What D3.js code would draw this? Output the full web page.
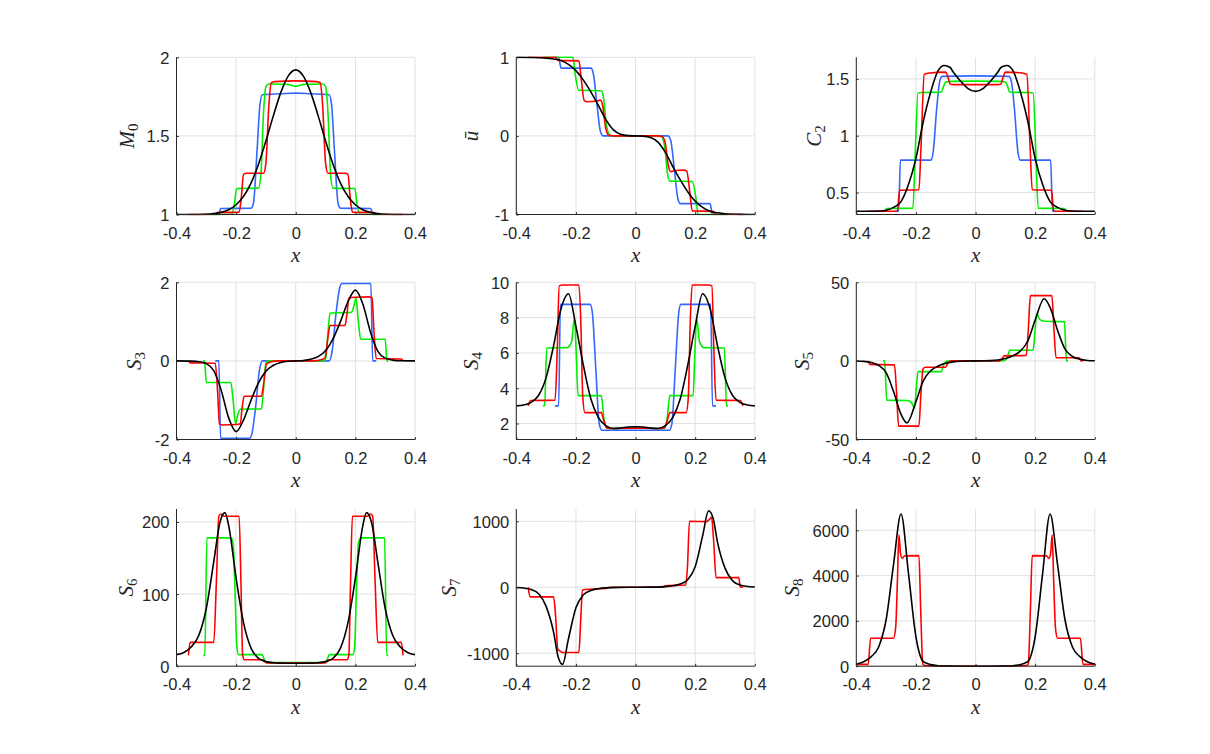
<!DOCTYPE html>
<html><head><meta charset="utf-8">
<script src="https://cdn.jsdelivr.net/npm/d3@7"></script>
<style>
body{margin:0;background:#fff;}
svg{display:block;}
</style></head>
<body>
<svg id="chart" width="1210" height="754"></svg>
<script>
// ---------------- data ----------------
const xTicks = [-0.4, -0.2, 0, 0.2, 0.4];
const xTickLabels = ["-0.4", "-0.2", "0", "0.2", "0.4"];

// M0
const m0Blue = [[-0.27,1],[-0.258,1],[-0.252,1.038],[-0.15,1.04],[-0.142,1.07],[-0.13,1.4],[-0.12,1.7],[-0.112,1.762],[-0.05,1.768],[0,1.772],[0.05,1.768],[0.112,1.762],[0.12,1.7],[0.13,1.4],[0.142,1.07],[0.15,1.04],[0.252,1.038],[0.258,1],[0.27,1]];
const m0Green = [[-0.31,1],[-0.215,1.002],[-0.207,1.05],[-0.198,1.165],[-0.125,1.168],[-0.117,1.25],[-0.108,1.65],[-0.1,1.815],[-0.09,1.83],[-0.03,1.828],[0,1.815],[0.03,1.828],[0.09,1.83],[0.1,1.815],[0.108,1.65],[0.117,1.25],[0.125,1.168],[0.198,1.165],[0.207,1.05],[0.215,1.002],[0.31,1]];
const m0Red = [[-0.36,1],[-0.268,1],[-0.262,1.012],[-0.19,1.015],[-0.183,1.1],[-0.175,1.255],[-0.165,1.262],[-0.108,1.262],[-0.1,1.33],[-0.09,1.7],[-0.082,1.838],[-0.07,1.845],[0,1.85],[0.07,1.845],[0.082,1.838],[0.09,1.7],[0.1,1.33],[0.108,1.262],[0.165,1.262],[0.175,1.255],[0.183,1.1],[0.19,1.015],[0.262,1.012],[0.268,1],[0.36,1]];
const m0Black = [[-0.4,1],[-0.35,1],[-0.3,1.002],[-0.275,1.006],[-0.25,1.014],[-0.225,1.03],[-0.2,1.062],[-0.175,1.116],[-0.15,1.2],[-0.125,1.32],[-0.1,1.468],[-0.075,1.629],[-0.05,1.777],[-0.025,1.882],[0,1.92],[0.025,1.882],[0.05,1.777],[0.075,1.629],[0.1,1.468],[0.125,1.32],[0.15,1.2],[0.175,1.116],[0.2,1.062],[0.225,1.03],[0.25,1.014],[0.275,1.006],[0.3,1.002],[0.35,1],[0.4,1]];

// u-bar
const uBlue = [[-0.27,1],[-0.258,1],[-0.25,0.862],[-0.15,0.862],[-0.142,0.8],[-0.13,0.42],[-0.118,0.06],[-0.108,0],[0.108,0],[0.118,-0.06],[0.13,-0.42],[0.142,-0.8],[0.15,-0.862],[0.25,-0.862],[0.258,-1],[0.27,-1]];
const uGreen = [[-0.31,1],[-0.21,1],[-0.203,0.8],[-0.19,0.58],[-0.115,0.575],[-0.108,0.5],[-0.097,0.12],[-0.085,0.005],[-0.07,0],[0.07,0],[0.085,-0.005],[0.097,-0.12],[0.108,-0.5],[0.115,-0.575],[0.19,-0.58],[0.203,-0.8],[0.21,-1],[0.31,-1]];
const uRed = [[-0.36,1],[-0.268,1],[-0.26,0.96],[-0.19,0.955],[-0.183,0.75],[-0.172,0.45],[-0.162,0.435],[-0.135,0.44],[-0.118,0.455],[-0.11,0.38],[-0.1,0.1],[-0.09,0.01],[-0.075,0],[0.075,0],[0.09,-0.01],[0.1,-0.1],[0.11,-0.38],[0.118,-0.455],[0.135,-0.44],[0.162,-0.435],[0.172,-0.45],[0.183,-0.75],[0.19,-0.955],[0.26,-0.96],[0.268,-1],[0.36,-1]];
const uBlack = [[-0.4,1],[-0.35,0.998],[-0.3,0.99],[-0.275,0.978],[-0.25,0.96],[-0.225,0.91],[-0.2,0.83],[-0.175,0.71],[-0.15,0.56],[-0.125,0.39],[-0.1,0.21],[-0.075,0.08],[-0.05,0.02],[-0.025,0.003],[0,0],[0.025,-0.003],[0.05,-0.02],[0.075,-0.08],[0.1,-0.21],[0.125,-0.39],[0.15,-0.56],[0.175,-0.71],[0.2,-0.83],[0.225,-0.91],[0.25,-0.96],[0.275,-0.978],[0.3,-0.99],[0.35,-0.998],[0.4,-1]];

// C2
const c2Blue = [[-0.27,0.335],[-0.258,0.335],[-0.252,0.785],[-0.15,0.785],[-0.142,0.86],[-0.13,1.25],[-0.12,1.48],[-0.112,1.522],[0,1.527],[0.112,1.522],[0.12,1.48],[0.13,1.25],[0.142,0.86],[0.15,0.785],[0.252,0.785],[0.258,0.335],[0.27,0.335]];
const c2Green = [[-0.31,0.335],[-0.305,0.335],[-0.298,0.36],[-0.21,0.362],[-0.203,0.8],[-0.193,1.375],[-0.18,1.38],[-0.115,1.382],[-0.108,1.43],[-0.1,1.472],[-0.08,1.478],[0,1.48],[0.08,1.478],[0.1,1.472],[0.108,1.43],[0.115,1.382],[0.18,1.38],[0.193,1.375],[0.203,0.8],[0.21,0.362],[0.298,0.36],[0.305,0.335],[0.31,0.335]];
const c2Red = [[-0.36,0.335],[-0.262,0.335],[-0.255,0.52],[-0.19,0.525],[-0.183,0.9],[-0.172,1.54],[-0.16,1.55],[-0.1,1.56],[-0.093,1.52],[-0.085,1.455],[-0.075,1.45],[0,1.45],[0.075,1.45],[0.085,1.455],[0.093,1.52],[0.1,1.56],[0.16,1.55],[0.172,1.54],[0.183,0.9],[0.19,0.525],[0.255,0.52],[0.262,0.335],[0.36,0.335]];
const c2Black = [[-0.4,0.335],[-0.35,0.336],[-0.325,0.338],[-0.3,0.345],[-0.275,0.37],[-0.25,0.42],[-0.225,0.57],[-0.2,0.8],[-0.175,1.13],[-0.15,1.39],[-0.125,1.575],[-0.105,1.618],[-0.085,1.6],[-0.075,1.56],[-0.05,1.48],[-0.025,1.415],[0,1.39],[0.025,1.415],[0.05,1.48],[0.075,1.56],[0.085,1.6],[0.105,1.618],[0.125,1.575],[0.15,1.39],[0.175,1.13],[0.2,0.8],[0.225,0.57],[0.25,0.42],[0.275,0.37],[0.3,0.345],[0.325,0.338],[0.35,0.336],[0.4,0.335]];

// S3
const s3Blue = [[-0.27,0],[-0.258,0],[-0.252,-1.97],[-0.155,-1.97],[-0.147,-1.85],[-0.135,-1.2],[-0.122,-0.25],[-0.112,0],[0.112,0],[0.122,0.25],[0.135,1.2],[0.147,1.85],[0.155,1.97],[0.252,1.97],[0.258,0],[0.27,0]];
const s3Green = [[-0.31,0],[-0.306,0],[-0.3,-0.55],[-0.218,-0.55],[-0.21,-1.0],[-0.202,-1.6],[-0.196,-1.42],[-0.186,-1.23],[-0.115,-1.22],[-0.108,-0.7],[-0.1,-0.05],[-0.09,0],[0.09,0],[0.1,0.05],[0.108,0.7],[0.115,1.22],[0.186,1.23],[0.196,1.42],[0.202,1.6],[0.21,1.0],[0.218,0.55],[0.3,0.55],[0.306,0],[0.31,0]];
const s3Red = [[-0.36,0],[-0.354,-0.05],[-0.27,-0.06],[-0.262,-0.8],[-0.256,-1.6],[-0.245,-1.63],[-0.2,-1.62],[-0.186,-1.6],[-0.18,-1.2],[-0.173,-0.9],[-0.115,-0.9],[-0.108,-0.6],[-0.098,-0.08],[-0.085,-0.03],[-0.06,0],[0.06,0],[0.085,0.03],[0.098,0.08],[0.108,0.6],[0.115,0.9],[0.165,0.9],[0.172,1.2],[0.178,1.6],[0.2,1.62],[0.245,1.63],[0.256,1.6],[0.262,0.8],[0.27,0.06],[0.354,0.05],[0.36,0]];
const s3Black = [[-0.4,0],[-0.35,-0.005],[-0.325,-0.02],[-0.3,-0.07],[-0.275,-0.25],[-0.25,-0.75],[-0.225,-1.45],[-0.2,-1.8],[-0.175,-1.5],[-0.15,-1.0],[-0.125,-0.56],[-0.1,-0.26],[-0.075,-0.11],[-0.05,-0.04],[-0.025,-0.01],[0,0],[0.025,0.01],[0.05,0.04],[0.075,0.11],[0.1,0.26],[0.125,0.56],[0.15,1.0],[0.175,1.5],[0.2,1.8],[0.225,1.45],[0.25,0.75],[0.275,0.25],[0.3,0.07],[0.325,0.02],[0.35,0.005],[0.4,0]];

// S4
const s4Blue = [[-0.27,3],[-0.258,3],[-0.252,8.75],[-0.152,8.75],[-0.145,8.3],[-0.133,5],[-0.122,2],[-0.113,1.62],[0,1.62],[0.113,1.62],[0.122,2],[0.133,5],[0.145,8.3],[0.152,8.75],[0.252,8.75],[0.258,3],[0.27,3]];
const s4Green = [[-0.31,3],[-0.305,3],[-0.298,6.28],[-0.23,6.3],[-0.215,6.6],[-0.205,7.95],[-0.199,6],[-0.193,3.58],[-0.115,3.58],[-0.106,2.3],[-0.097,1.72],[0,1.74],[0.097,1.72],[0.106,2.3],[0.115,3.58],[0.193,3.58],[0.199,6],[0.205,7.95],[0.215,6.6],[0.23,6.3],[0.298,6.28],[0.305,3],[0.31,3]];
const s4Red = [[-0.36,3],[-0.352,3.3],[-0.27,3.32],[-0.263,6],[-0.256,9.8],[-0.245,9.85],[-0.19,9.85],[-0.184,8],[-0.177,3.5],[-0.17,2.62],[-0.115,2.62],[-0.107,2.2],[-0.097,1.76],[-0.085,1.72],[0,1.74],[0.085,1.72],[0.097,1.76],[0.107,2.2],[0.115,2.62],[0.17,2.62],[0.177,3.5],[0.184,8],[0.19,9.85],[0.245,9.85],[0.256,9.8],[0.263,6],[0.27,3.32],[0.352,3.3],[0.36,3]];
const s4Black = [[-0.4,3],[-0.375,3.05],[-0.35,3.2],[-0.325,3.6],[-0.3,4.6],[-0.275,6.4],[-0.25,8.5],[-0.225,9.35],[-0.2,7.5],[-0.175,5.3],[-0.15,3.4],[-0.125,2.35],[-0.1,1.88],[-0.075,1.72],[-0.05,1.74],[-0.025,1.8],[0,1.82],[0.025,1.8],[0.05,1.74],[0.075,1.72],[0.1,1.88],[0.125,2.35],[0.15,3.4],[0.175,5.3],[0.2,7.5],[0.225,9.35],[0.25,8.5],[0.275,6.4],[0.3,4.6],[0.325,3.6],[0.35,3.2],[0.375,3.05],[0.4,3]];

// S5
const s5Green = [[-0.31,0],[-0.305,0],[-0.298,-25],[-0.23,-25.2],[-0.215,-26.5],[-0.205,-30],[-0.199,-18],[-0.193,-6.8],[-0.115,-6.8],[-0.106,-2],[-0.098,-0.3],[-0.08,0],[0.08,0],[0.098,0.3],[0.106,2],[0.115,6.8],[0.193,6.8],[0.199,18],[0.205,30],[0.215,26.5],[0.23,25.2],[0.298,25],[0.305,0],[0.31,0]];
const s5Red = [[-0.36,0],[-0.354,-2.2],[-0.272,-2.5],[-0.265,-20],[-0.258,-41.5],[-0.19,-41.5],[-0.183,-20],[-0.176,-5],[-0.168,-4],[-0.1,-4],[-0.092,-1],[-0.08,0],[0.08,0],[0.088,1],[0.096,3.2],[0.17,3.5],[0.177,20],[0.184,41.5],[0.256,41.5],[0.263,20],[0.27,2],[0.348,2],[0.354,0],[0.36,0]];
const s5Black = [[-0.4,-0.1],[-0.375,-0.3],[-0.35,-1],[-0.325,-2.8],[-0.3,-7.5],[-0.275,-19.5],[-0.25,-34],[-0.23,-39.5],[-0.2,-26],[-0.175,-12.5],[-0.15,-6.2],[-0.125,-3.2],[-0.1,-1.5],[-0.075,-0.6],[-0.05,-0.2],[-0.025,-0.05],[0,0],[0.025,0.05],[0.05,0.2],[0.075,0.6],[0.1,1.5],[0.125,3.2],[0.15,6.2],[0.175,12.5],[0.2,26],[0.23,39.5],[0.25,34],[0.275,19.5],[0.3,7.5],[0.325,2.8],[0.35,1],[0.375,0.3],[0.4,0.1]];

// S6
const s6Green = [[-0.31,15],[-0.305,15],[-0.298,178],[-0.218,178],[-0.21,170],[-0.204,110],[-0.198,30],[-0.192,16],[-0.113,16],[-0.106,10],[-0.098,5],[0,5],[0.098,5],[0.106,10],[0.113,16],[0.192,16],[0.198,30],[0.204,110],[0.21,170],[0.218,178],[0.298,178],[0.305,15],[0.31,15]];
const s6Red = [[-0.36,15],[-0.354,33],[-0.275,33],[-0.266,120],[-0.258,208],[-0.252,211],[-0.24,208],[-0.19,208],[-0.184,120],[-0.178,15],[-0.172,9],[-0.112,9],[-0.104,6],[-0.095,4.5],[0,4.5],[0.095,4.5],[0.104,6],[0.112,9],[0.172,9],[0.178,15],[0.184,120],[0.19,208],[0.24,208],[0.252,211],[0.258,208],[0.266,120],[0.275,33],[0.354,33],[0.36,15]];
const s6Black = [[-0.4,16],[-0.375,19],[-0.35,27],[-0.325,43],[-0.3,80],[-0.275,145],[-0.255,198],[-0.2375,213],[-0.225,195],[-0.2,122],[-0.175,60],[-0.15,25],[-0.125,11],[-0.1,6.5],[-0.075,4.8],[-0.05,4.2],[-0.025,4],[0,4],[0.025,4],[0.05,4.2],[0.075,4.8],[0.1,6.5],[0.125,11],[0.15,25],[0.175,60],[0.2,122],[0.225,195],[0.2375,213],[0.255,198],[0.275,145],[0.3,80],[0.325,43],[0.35,27],[0.375,19],[0.4,16]];

// S7
const s7Red = [[-0.36,0],[-0.354,-146],[-0.275,-146],[-0.268,-450],[-0.261,-940],[-0.254,-965],[-0.245,-990],[-0.19,-990],[-0.184,-500],[-0.178,-45],[-0.17,-35],[-0.1,-20],[-0.09,-5],[-0.08,0],[0.08,0],[0.09,5],[0.1,20],[0.168,35],[0.174,300],[0.181,1000],[0.238,995],[0.248,1030],[0.255,1060],[0.262,700],[0.27,146],[0.346,146],[0.352,0],[0.36,0]];
const s7Black = [[-0.4,-4],[-0.375,-12],[-0.35,-35],[-0.325,-100],[-0.3,-290],[-0.275,-680],[-0.26,-1050],[-0.245,-1170],[-0.225,-780],[-0.2,-310],[-0.175,-115],[-0.15,-48],[-0.125,-22],[-0.1,-10],[-0.05,-2],[0,0],[0.05,2],[0.1,10],[0.125,22],[0.15,48],[0.175,115],[0.2,310],[0.225,780],[0.245,1160],[0.26,1050],[0.275,680],[0.3,290],[0.325,100],[0.35,35],[0.375,12],[0.4,4]];

// S8
const s8Red = [[-0.4,80],[-0.36,80],[-0.352,1235],[-0.275,1235],[-0.268,1700],[-0.262,3800],[-0.257,5800],[-0.252,5000],[-0.246,4760],[-0.238,4870],[-0.19,4880],[-0.184,2500],[-0.177,100],[-0.17,30],[-0.1,5],[0,0],[0.1,5],[0.17,30],[0.177,100],[0.184,2500],[0.19,4880],[0.238,4870],[0.246,4760],[0.252,5000],[0.257,5800],[0.262,3800],[0.268,1700],[0.275,1235],[0.352,1235],[0.36,80],[0.4,80]];
const s8Black = [[-0.4,100],[-0.375,200],[-0.35,420],[-0.325,850],[-0.3,2050],[-0.275,4500],[-0.25,6720],[-0.225,4100],[-0.2,1300],[-0.175,200],[-0.15,70],[-0.125,20],[-0.1,5],[-0.05,0.3],[0,0],[0.05,0.3],[0.1,5],[0.125,20],[0.15,70],[0.175,200],[0.2,1300],[0.225,4100],[0.25,6720],[0.275,4500],[0.3,2050],[0.325,850],[0.35,420],[0.375,200],[0.4,100]];

// y ranges and ticks
const yDomains = [[1,2],[-1,1],[0.307,1.69],[-2,2],[1.095,10],[-50,50],[0,218],[-1197,1186],[0,6940]];
const yTicks = [[1,1.5,2],[-1,0,1],[0.5,1,1.5],[-2,0,2],[2,4,6,8,10],[-50,0,50],[0,100,200],[-1000,0,1000],[0,2000,4000,6000]];
const yLabels = [["M","0"],["ū",null],["C","2"],["S","3"],["S","4"],["S","5"],["S","6"],["S","7"],["S","8"]];
const seriesNames = ["blue","green","red","black"];
const panelSeries = [
  [m0Blue, m0Green, m0Red, m0Black],
  [uBlue, uGreen, uRed, uBlack],
  [c2Blue, c2Green, c2Red, c2Black],
  [s3Blue, s3Green, s3Red, s3Black],
  [s4Blue, s4Green, s4Red, s4Black],
  [null, s5Green, s5Red, s5Black],
  [null, s6Green, s6Red, s6Black],
  [null, null, s7Red, s7Black],
  [null, null, s8Red, s8Black]
];

// ---------------- layout / style ----------------
const colors = {blue:"#3366ff", green:"#00ee00", red:"#ff0000", black:"#000000"};
const colLeft = [176.5, 516.3, 856.3];
const rowTop = [57.3, 282.3, 509];
const axW = 238.5, axH = 157.2;
const yLabelOffset = [48.5, 44.6, 41.3, 41.5, 44.6, 53.3, 49.8, 66.3, 63.6];
const axisColor = "#262626", gridColor = "#e1e1e1";
const tickFont = '"Liberation Sans", Arial, Helvetica, sans-serif';
const labelFont = '"Liberation Serif", "Times New Roman", serif';

const svg = d3.select("#chart");
svg.append("rect").attr("width",1210).attr("height",754).attr("fill","#fff");
const defs = svg.append("defs");

panelSeries.forEach((series, i) => {
  const r = Math.floor(i/3), c = i%3;
  const L = colLeft[c], T = rowTop[r];
  const x = d3.scaleLinear().domain([-0.4,0.4]).range([0,axW]);
  const y = d3.scaleLinear().domain(yDomains[i]).range([axH,0]);
  const g = svg.append("g").attr("transform",`translate(${L},${T})`);

  // grid
  g.append("g").selectAll("line").data(xTicks).join("line")
    .attr("x1",d=>x(d)).attr("x2",d=>x(d)).attr("y1",0).attr("y2",axH)
    .attr("stroke",gridColor).attr("stroke-width",1);
  g.append("g").selectAll("line").data(yTicks[i]).join("line")
    .attr("x1",0).attr("x2",axW).attr("y1",d=>y(d)).attr("y2",d=>y(d))
    .attr("stroke",gridColor).attr("stroke-width",1);

  // clip
  const cid = "clip"+i;
  defs.append("clipPath").attr("id",cid).append("rect")
    .attr("x",0).attr("y",-1).attr("width",axW+1).attr("height",axH+2);

  const line = d3.line().x(d=>x(d[0])).y(d=>y(d[1])).curve(d3.curveMonotoneX);
  const pg = g.append("g").attr("clip-path",`url(#${cid})`);
  series.forEach((s, k) => {
    if (!s) return;
    pg.append("path").attr("d",line(s)).attr("fill","none")
      .attr("stroke",colors[seriesNames[k]]).attr("stroke-width",1.6)
      .attr("stroke-linejoin","round");
  });

  // axes (box off): bottom and left
  const xAxis = d3.axisBottom(x).tickValues(xTicks).tickFormat((d,j)=>xTickLabels[j])
    .tickSizeInner(-2.4).tickSizeOuter(0).tickPadding(8);
  const xa = g.append("g").attr("transform",`translate(0,${axH})`).call(xAxis);
  const yAxis = d3.axisLeft(y).tickValues(yTicks[i]).tickFormat(d=>String(d))
    .tickSizeInner(-2.4).tickSizeOuter(0).tickPadding(7);
  const ya = g.append("g").call(yAxis);
  [xa, ya].forEach(a => {
    a.attr("font-size",null).attr("font-family",null);
    a.select(".domain").attr("stroke",axisColor).attr("stroke-width",1);
    a.selectAll(".tick line").attr("stroke",axisColor);
    a.selectAll(".tick text")
      .attr("font-family",tickFont).attr("font-size",16.5).attr("fill",axisColor);
  });
  xa.selectAll(".tick text").attr("y",12.5).attr("dy","0.71em");
  ya.selectAll(".tick text").attr("x",-7).attr("dy","0.36em");
  xa.select(".domain").attr("d",`M0,0H${axW}`);
  ya.select(".domain").attr("d",`M0,0V${axH}`);

  // x label
  g.append("text").attr("x",axW/2).attr("y",axH+47.5)
    .attr("text-anchor","middle")
    .attr("font-family",labelFont).attr("font-size",21).attr("font-style","italic").attr("fill",axisColor)
    .text("x");

  // y label
  const yl = g.append("text")
    .attr("transform",`translate(${-yLabelOffset[i]},${axH/2}) rotate(-90)`)
    .attr("text-anchor","middle").attr("dy","0.3em")
    .attr("font-family",labelFont).attr("font-size",21).attr("fill",axisColor);
  yl.append("tspan").attr("font-style","italic").text(yLabels[i][0]);
  if (yLabels[i][1]) {
    yl.append("tspan").attr("font-size",15).attr("dy","4").text(yLabels[i][1]);
  }
});
</script>
</body></html>
